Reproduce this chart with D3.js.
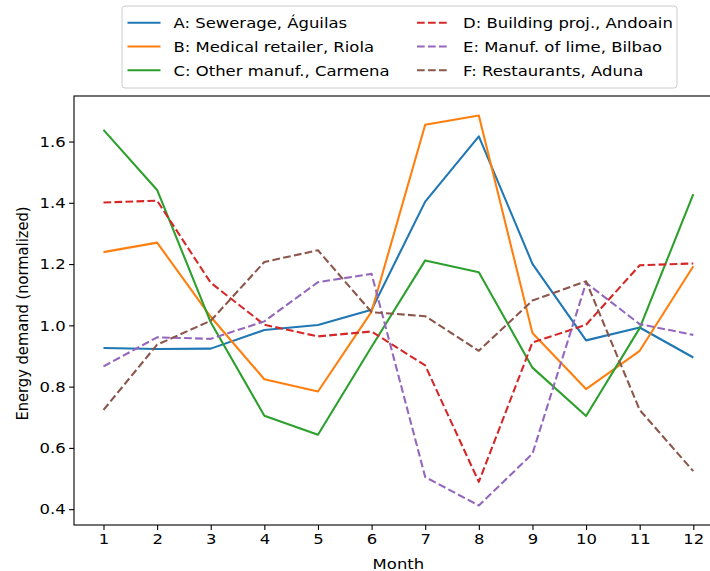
<!DOCTYPE html>
<html>
<head>
<meta charset="utf-8">
<script src="https://cdn.jsdelivr.net/npm/d3@7"></script>
<style>
  html, body { margin: 0; padding: 0; background: #fff; }
  svg { display: block; font-family: "DejaVu Sans", sans-serif; }
</style>
</head>
<body>
<svg id="chart" width="710" height="571"></svg>
<script>
// Monthly normalized energy demand for six sites
const months = [1, 2, 3, 4, 5, 6, 7, 8, 9, 10, 11, 12];

const seriesNames = [
  "A: Sewerage, Águilas",
  "B: Medical retailer, Riola",
  "C: Other manuf., Carmena",
  "D: Building proj., Andoain",
  "E: Manuf. of lime, Bilbao",
  "F: Restaurants, Aduna"
];

const seriesA = [0.926, 0.923, 0.924, 0.985, 1.001, 1.051, 1.404, 1.617, 1.201, 0.951, 0.993, 0.895];
const seriesB = [1.239, 1.270, 1.028, 0.824, 0.784, 1.045, 1.655, 1.685, 0.975, 0.792, 0.917, 1.193];
const seriesC = [1.638, 1.442, 1.010, 0.705, 0.643, 0.930, 1.212, 1.173, 0.862, 0.704, 0.991, 1.428];
const seriesD = [1.401, 1.407, 1.139, 1.002, 0.964, 0.980, 0.869, 0.489, 0.944, 1.002, 1.196, 1.202];
const seriesE = [0.866, 0.961, 0.956, 1.013, 1.141, 1.168, 0.505, 0.412, 0.581, 1.139, 1.004, 0.969];
const seriesF = [0.724, 0.937, 1.015, 1.207, 1.245, 1.043, 1.030, 0.917, 1.081, 1.144, 0.724, 0.524];

const yTicks = [0.4, 0.6, 0.8, 1.0, 1.2, 1.4, 1.6];

const colors = ["#1f77b4", "#ff7f0e", "#2ca02c", "#d62728", "#9467bd", "#8c564b"];
const dashed = [false, false, false, true, true, true];

const allSeries = [seriesA, seriesB, seriesC, seriesD, seriesE, seriesF].map((vals, i) => ({
  name: seriesNames[i], color: colors[i], dashed: dashed[i],
  points: months.map((m, j) => ({ m, v: vals[j] }))
}));

const svg = d3.select("#chart");
const plot = { left: 74, right: 722.8, top: 96, bottom: 525 };
const fontSize = 14.7;
const stretch = 1.12;   // glyphs are drawn slightly wide

// Axis limits with a 5% margin on each side
const xMin = d3.min(months), xMax = d3.max(months);
const xPad = (xMax - xMin) * 0.05;
const x = d3.scaleLinear().domain([xMin - xPad, xMax + xPad]).range([plot.left, plot.right]);

const allVals = allSeries.flatMap(s => s.points.map(p => p.v));
const vMin = d3.min(allVals), vMax = d3.max(allVals);
const vPad = (vMax - vMin) * 0.05;
const y = d3.scaleLinear().domain([vMin - vPad, vMax + vPad]).range([plot.bottom, plot.top]);

// Lines
const line = d3.line().x(d => x(d.m)).y(d => y(d.v));
svg.append("g").selectAll("path")
  .data(allSeries)
  .join("path")
  .attr("d", d => line(d.points))
  .attr("fill", "none")
  .attr("stroke", d => d.color)
  .attr("stroke-width", 2.08)
  .attr("stroke-linejoin", "round")
  .attr("stroke-dasharray", d => d.dashed ? "7.7,3.3" : null);

// Axes
const tickLen = 4.9, tickPad = 3.5;
const xAxis = svg.append("g")
  .attr("transform", `translate(0,${plot.bottom})`)
  .call(d3.axisBottom(x).tickValues(months).tickFormat(d3.format("d")).tickSize(tickLen).tickPadding(tickPad).tickSizeOuter(0));
const yAxis = svg.append("g")
  .attr("transform", `translate(${plot.left},0)`)
  .call(d3.axisLeft(y).tickValues(yTicks).tickFormat(d3.format(".1f")).tickSize(tickLen).tickPadding(tickPad).tickSizeOuter(0));

[xAxis, yAxis].forEach(g => {
  g.select(".domain").remove();
  g.selectAll(".tick line").attr("stroke", "#000").attr("stroke-width", 1.1);
  g.selectAll(".tick text").attr("fill", "#000").style("font-size", fontSize + "px").style("font-family", "DejaVu Sans");
});
xAxis.selectAll(".tick text").attr("transform", `scale(${stretch},1)`);
yAxis.selectAll(".tick text")
  .attr("x", -(tickLen + tickPad) / stretch)
  .attr("transform", `scale(${stretch},1)`);

// Frame around the plotting area
svg.append("rect")
  .attr("x", plot.left).attr("y", plot.top)
  .attr("width", plot.right - plot.left).attr("height", plot.bottom - plot.top)
  .attr("fill", "none").attr("stroke", "#000").attr("stroke-width", 1.1);

// Axis titles
svg.append("text")
  .attr("transform", `translate(${(plot.left + plot.right) / 2},568.5) scale(${stretch},1)`)
  .attr("text-anchor", "middle").style("font-size", fontSize + "px")
  .text("Month");
svg.append("text")
  .attr("transform", `translate(27.5,${(plot.top + plot.bottom) / 2 + 3}) scale(${stretch},1) rotate(-90)`)
  .attr("text-anchor", "middle").style("font-size", fontSize + "px")
  .text("Energy demand (normalized)");

// Legend (two columns, three rows)
const legend = svg.append("g");
legend.append("rect")
  .attr("x", 122).attr("y", 6).attr("width", 555).attr("height", 82)
  .attr("rx", 3).attr("fill", "#fff").attr("fill-opacity", 0.8)
  .attr("stroke", "#cccccc").attr("stroke-width", 1);

const colX = [127.5, 417];
const rowY = [22.7, 46.5, 70.3];
const items = legend.selectAll("g.item")
  .data(allSeries)
  .join("g")
  .attr("class", "item")
  .attr("transform", (d, i) => `translate(${colX[Math.floor(i / 3)]},${rowY[i % 3]})`);
items.append("line")
  .attr("x1", 0).attr("x2", 33).attr("y1", 0).attr("y2", 0)
  .attr("stroke", d => d.color).attr("stroke-width", 2.08)
  .attr("stroke-dasharray", d => d.dashed ? "7.7,3.3" : null);
items.append("text")
  .attr("transform", `translate(46,0) scale(${stretch},1)`)
  .attr("dy", "0.36em")
  .style("font-size", fontSize + "px")
  .text(d => d.name);
</script>
</body>
</html>
